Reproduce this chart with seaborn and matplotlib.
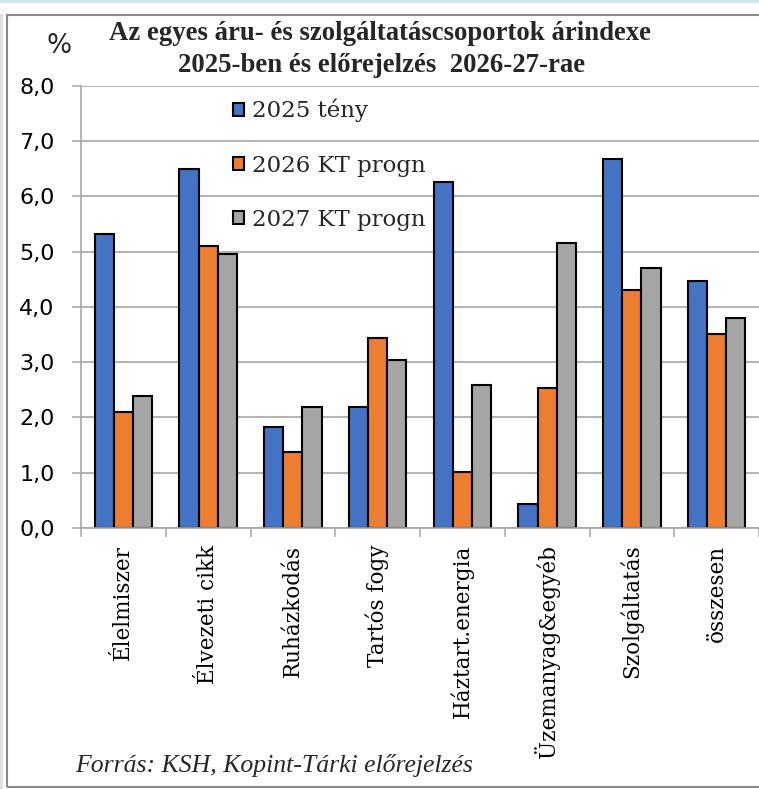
import numpy as np
import pandas as pd
import seaborn as sns
import matplotlib.pyplot as plt
from matplotlib.patches import Rectangle
from matplotlib.ticker import FuncFormatter

# Price indices by product / service group (%)
categories = ["Élelmiszer", "Élvezeti cikk", "Ruházkodás", "Tartós fogy",
              "Háztart.energia", "Üzemanyag&egyéb", "Szolgáltatás", "összesen"]
series = ["2025 tény", "2026 KT progn", "2027 KT progn"]
teny_2025 = [5.31, 6.50, 1.83, 2.19, 6.26, 0.43, 6.67, 4.47]
progn_2026 = [2.10, 5.10, 1.38, 3.43, 1.02, 2.54, 4.30, 3.51]
progn_2027 = [2.39, 4.95, 2.19, 3.04, 2.59, 5.15, 4.71, 3.79]
y_ticks = [0, 1, 2, 3, 4, 5, 6, 7, 8]

title_1 = "Az egyes áru- és szolgáltatáscsoportok árindexe"
title_2 = "2025-ben és előrejelzés  2026-27-rae"
source = "Forrás: KSH, Kopint-Tárki előrejelzés"

colors = ["#4472C4", "#ED7D31", "#A5A5A5"]
grid_grey = "#a6a6a6"

df = pd.DataFrame({
    "kategoria": categories * 3,
    "sorozat": [s for s in series for _ in categories],
    "ertek": teny_2025 + progn_2026 + progn_2027,
})

sns.set_theme(style="white")
plt.rcParams["font.family"] = ["DejaVu Sans"]

W, H = 759, 789
fig = plt.figure(figsize=(W / 100, H / 100), dpi=100)
fig.patch.set_facecolor("white")

# plot area in pixel terms: y axis at x=81, zero line at y=528, 8,0 at y=86
x0, y_zero, y_top = 81, 528, 85.7
cat_px = 85.9
ax = fig.add_axes([x0 / W, (H - y_zero) / H, (W - x0) / W, (y_zero - y_top) / H])

sns.barplot(data=df, x="kategoria", y="ertek", hue="sorozat",
            order=categories, hue_order=series, palette=colors,
            saturation=1, width=0.68, gap=0, errorbar=None,
            edgecolor="black", linewidth=1.5, ax=ax)

ax.set_xlim(-0.5, -0.5 + (W - x0) / cat_px)
ax.set_ylim(0, 8)
ax.set_xlabel("")
ax.set_ylabel("")

# y axis
ax.set_yticks(y_ticks)
ax.yaxis.set_major_formatter(FuncFormatter(lambda v, p: f"{v:.1f}".replace(".", ",")))
ax.tick_params(axis="y", direction="out", length=6.5, width=1.1, color=grid_grey,
               pad=12.5, labelsize=16, labelcolor="black", left=True)
ax.yaxis.grid(True, color=grid_grey, linewidth=1.2)
ax.xaxis.grid(False)
ax.set_axisbelow(True)

# x axis: tick marks between groups, labels at group centres
ax.set_xticks(np.arange(-0.5, len(categories), 1.0), labels=[])
ax.set_xticks(np.arange(len(categories)), labels=categories, minor=True)
ax.tick_params(axis="x", which="major", direction="out", length=6.5, width=1.1,
               color=grid_grey, bottom=True)
ax.tick_params(axis="x", which="minor", length=0, pad=12, bottom=True)
for lab in ax.get_xticklabels(minor=True):
    lab.set_rotation(90)
    lab.set_fontfamily("DejaVu Serif")
    lab.set_fontsize(15.5)
    lab.set_color("black")

for side in ["top", "right"]:
    ax.spines[side].set_visible(False)
for side in ["left", "bottom"]:
    ax.spines[side].set_color(grid_grey)
    ax.spines[side].set_linewidth(1.2)

# legend
handles, labels = ax.get_legend_handles_labels()
leg = ax.legend(handles, labels, loc="upper left",
                bbox_to_anchor=((233 - x0) / (W - x0), (y_zero - 99) / (y_zero - y_top)),
                frameon=False, prop={"family": "DejaVu Serif", "size": 16.5},
                handlelength=0.5, handleheight=0.5, handletextpad=0.35,
                labelspacing=1.4, borderaxespad=0, borderpad=0)

# titles and notes
fig.text(380 / W, 1 - 34 / H, title_1, ha="center", va="center",
         fontfamily="Liberation Serif", fontweight="bold", fontsize=19.3)
fig.text(382 / W, 1 - 65 / H, title_2, ha="center", va="center",
         fontfamily="Liberation Serif", fontweight="bold", fontsize=19.3)
fig.text(59 / W, 1 - 46 / H, "%", ha="center", va="center", fontsize=19)
fig.text(75 / W, 1 - 772 / H, source, ha="left", va="baseline",
         fontfamily="Liberation Serif", style="italic", fontsize=18.5)

# chart frame
fig.add_artist(Rectangle((7 / W, (H - 787) / H), (W + 20) / W, (787 - 15) / H,
                         transform=fig.transFigure, fill=False,
                         edgecolor="#8a8a8a", linewidth=1.5))
fig.add_artist(Rectangle((0, 1 - 3 / H), 1, 3 / H, transform=fig.transFigure,
                         facecolor="#cde7eb", edgecolor="none"))
fig.add_artist(Rectangle((0, 0), 3 / W, 1 - 14 / H, transform=fig.transFigure,
                         facecolor="#dedede", edgecolor="none"))

fig.savefig("out.png", dpi=100, facecolor="white")
